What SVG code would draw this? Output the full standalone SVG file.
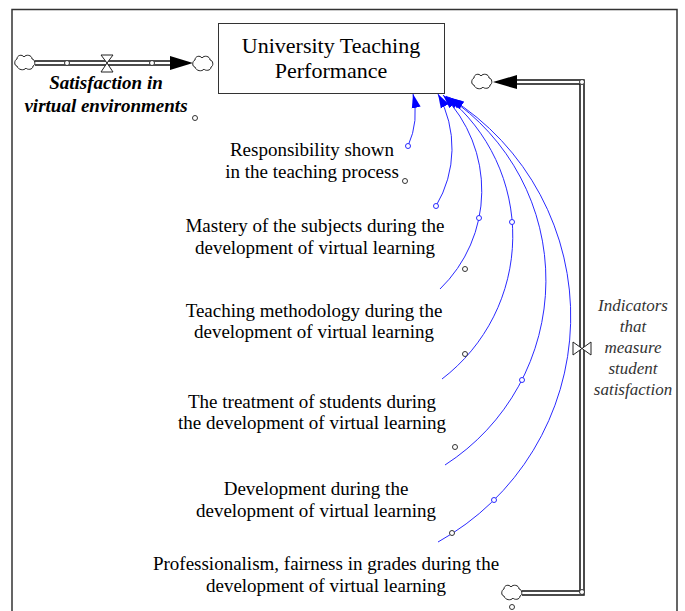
<svg xmlns="http://www.w3.org/2000/svg" width="685" height="611" viewBox="0 0 685 611" font-family="'Liberation Serif', 'Times New Roman', 'DejaVu Serif', serif">
<style>
text{font-family:'Liberation Serif','Times New Roman','DejaVu Serif',serif}
.t{font-size:19px;fill:#000;text-anchor:middle}
.title{font-size:22px}
.fl{font-weight:bold;font-style:italic}
.ind{font-style:italic;font-size:17px;fill:#333}
.conn{fill:none;stroke:#2a2aff;stroke-width:1}
.hb{fill:#fff;stroke:#2a2aff;stroke-width:1}
.hk{fill:#fff;stroke:#333;stroke-width:1}
.pipe{fill:none;stroke:#111;stroke-width:1.5}
.cloud{fill:#fff;stroke:#222;stroke-width:1}
</style>
<defs>
<marker id="ab" markerUnits="userSpaceOnUse" markerWidth="15" markerHeight="10" refX="14" refY="5" orient="auto">
<path d="M0,0.5 L14,5 L0,9.5 z" fill="#0000ff"/>
</marker>
<path id="cl" d="M-8,4 C-11,4 -11,-2 -8,-3 C-8,-7 -3,-8 -1,-5 C1,-8 7,-7 7,-3 C10,-3 11,3 8,4 C8,8 2,8 1,6 C-1,9 -7,8 -8,4 Z"/>
</defs>
<rect width="685" height="611" fill="#fff"/>
<path d="M12,611 L12,9.5 L677,9.5 L677,611" fill="none" stroke="#333" stroke-width="1.5"/>

<g id="connectors">
<path class="conn" marker-end="url(#ab)" d="M408,146 A81,81 0 0 0 413,94"/>
<path class="conn" marker-end="url(#ab)" d="M436,206 A112,112 0 0 0 438,94"/>
<path class="conn" marker-end="url(#ab)" d="M440,289 A137,137 0 0 0 443,95"/>
<path class="conn" marker-end="url(#ab)" d="M442,379 A180,180 0 0 0 446,96"/>
<path class="conn" marker-end="url(#ab)" d="M445,465 A220,220 0 0 0 448,97"/>
<path class="conn" marker-end="url(#ab)" d="M438,542 A258,258 0 0 0 450,98"/>
<circle class="hb" cx="408" cy="146" r="2.5"/>
<circle class="hb" cx="436" cy="206" r="2.5"/>
<circle class="hb" cx="479" cy="218" r="2.5"/>
<circle class="hb" cx="512" cy="222" r="2.5"/>
<circle class="hb" cx="522" cy="380" r="2.5"/>
<circle class="hb" cx="494" cy="500" r="2.5"/>
</g>

<g id="flow-satisfaction">
<use href="#cl" class="cloud" x="25" y="62"/>
<path class="pipe" d="M35,61 L172,61 M35,65 L172,65"/>
<circle class="hk" cx="67" cy="63" r="2.5"/>
<circle class="hk" cx="152" cy="63" r="2.5"/>
<path d="M101,55 L113,55 L107,63 Z M107,63 L113,72 L101,72 Z" fill="#fff" stroke="#222" stroke-width="1"/>
<path d="M170,56 L193,63 L170,70 Z" fill="#000"/>
<use href="#cl" class="cloud" x="203" y="63"/>
<text class="t fl" x="106" y="89">Satisfaction in</text>
<text class="t fl" x="106" y="112">virtual environments</text>
<circle class="hk" cx="195" cy="118" r="2.5"/>
</g>

<g id="node-performance">
<rect x="218.5" y="23.5" width="226" height="70" fill="#fff" stroke="#333" stroke-width="1"/>
<text class="t title" x="331" y="53">University Teaching</text>
<text class="t title" x="331" y="78">Performance</text>
</g>

<g id="flow-indicators">
<path class="pipe" d="M517,80 L584,80 L584,595 L522,595 M517,84 L580,84 L580,591 L522,591"/>
<path d="M493,82 L517,75 L517,89 Z" fill="#000"/>
<use href="#cl" class="cloud" x="482" y="81"/>
<use href="#cl" class="cloud" x="512" y="592"/>
<circle class="hk" cx="582" cy="82" r="2.5"/>
<circle class="hk" cx="582" cy="592" r="2.5"/>
<circle class="hk" cx="512" cy="607" r="2.5"/>
<path d="M573,342 L582,348.5 L573,355 Z M582,348.5 L591,342 L591,355 Z" fill="#fff" stroke="#222" stroke-width="1"/>
<text class="t ind" x="633" y="311">Indicators</text>
<text class="t ind" x="633" y="332">that</text>
<text class="t ind" x="633" y="353">measure</text>
<text class="t ind" x="633" y="374">student</text>
<text class="t ind" x="633" y="395">satisfaction</text>
</g>

<g id="node-responsibility">
<text class="t" x="312" y="156">Responsibility shown</text>
<text class="t" x="312" y="178">in the teaching process</text>
<circle class="hk" cx="405" cy="181" r="2.5"/>
</g>
<g id="node-mastery">
<text class="t" x="315" y="232">Mastery of the subjects during the</text>
<text class="t" x="315" y="254">development of virtual learning</text>
<circle class="hk" cx="465" cy="269" r="2.5"/>
</g>
<g id="node-methodology">
<text class="t" x="314" y="317">Teaching methodology during the</text>
<text class="t" x="314" y="338">development of virtual learning</text>
<circle class="hk" cx="465" cy="354" r="2.5"/>
</g>
<g id="node-treatment">
<text class="t" x="312" y="408">The treatment of students during</text>
<text class="t" x="312" y="429">the development of virtual learning</text>
<circle class="hk" cx="455" cy="447" r="2.5"/>
</g>
<g id="node-development">
<text class="t" x="316" y="495">Development during the</text>
<text class="t" x="316" y="517">development of virtual learning</text>
<circle class="hk" cx="452" cy="533" r="2.5"/>
</g>
<g id="node-professionalism">
<text class="t" x="326" y="570">Professionalism, fairness in grades during the</text>
<text class="t" x="326" y="592">development of virtual learning</text>
</g>
</svg>
